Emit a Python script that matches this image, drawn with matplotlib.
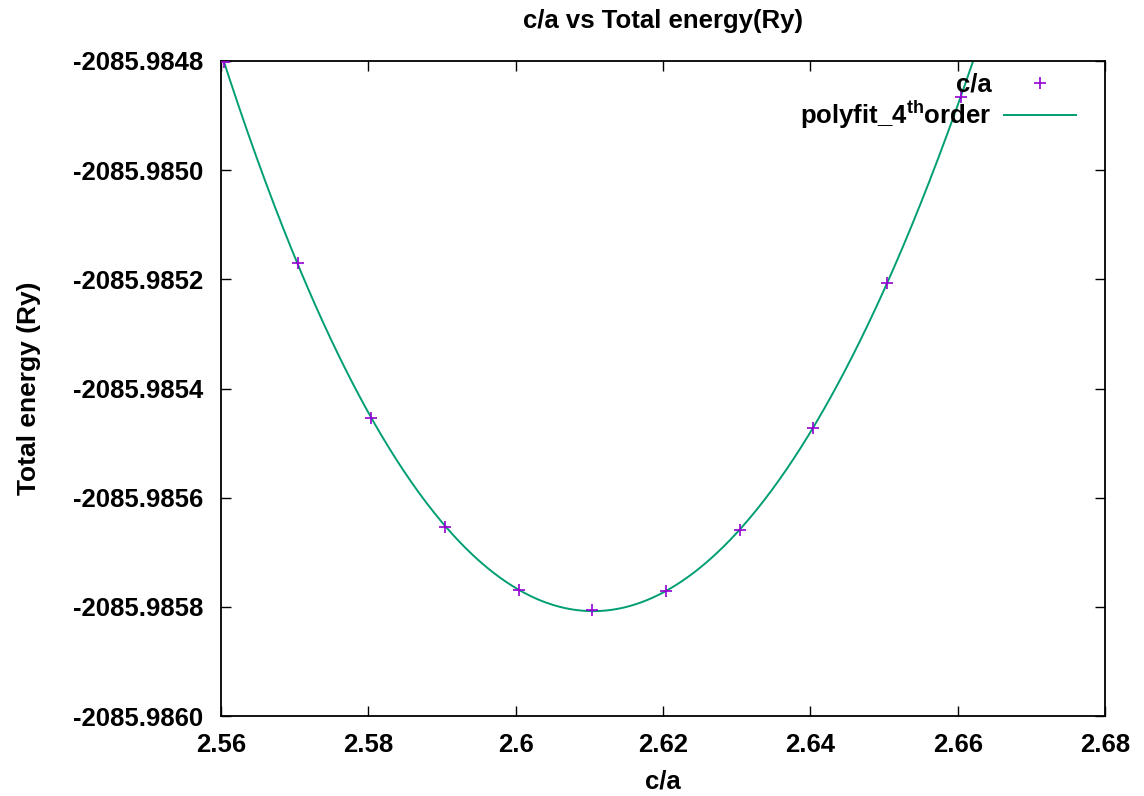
import numpy as np
import matplotlib
matplotlib.use('Agg')
import matplotlib.pyplot as plt
from matplotlib.ticker import FixedLocator

plt.rcParams['font.family'] = ['Liberation Sans', 'DejaVu Sans']
plt.rcParams['font.weight'] = 'bold'
plt.rcParams['mathtext.fontset'] = 'custom'
plt.rcParams['mathtext.bf'] = 'Liberation Sans:bold'
plt.rcParams['mathtext.rm'] = 'Liberation Sans:bold'

# data
ca = [2.5604, 2.5704, 2.5804, 2.5904, 2.6004, 2.6104,
      2.6204, 2.6304, 2.6404, 2.6504, 2.6604]
energy = [-2085.984802, -2085.985170, -2085.985454, -2085.985653,
          -2085.985769, -2085.985806, -2085.985771, -2085.985659,
          -2085.985472, -2085.985207, -2085.984866]

x_ticks = [2.56, 2.58, 2.60, 2.62, 2.64, 2.66, 2.68]
x_labels = ['2.56', '2.58', '2.6', '2.62', '2.64', '2.66', '2.68']
y_ticks = [-2085.9860, -2085.9858, -2085.9856, -2085.9854,
           -2085.9852, -2085.9850, -2085.9848]
y_labels = ['%.4f' % v for v in y_ticks]

PURPLE = '#9400d3'
GREEN = '#009e73'

# 4th-order polynomial fit (centred for stability)
x0, e0 = 2.61, -2085.985
xa = np.array(ca) - x0
ea = np.array(energy) - e0
coef = np.polyfit(xa, ea, 4)
xs = np.linspace(2.56, 2.68, 600)
fit = np.polyval(coef, xs - x0) + e0

fig = plt.figure(figsize=(11.44, 7.96), dpi=100)
ax = fig.add_axes([221 / 1144, 1 - 716 / 796, (1105 - 221) / 1144,
                   (716 - 61) / 796])

ax.plot(ca, energy, ls='none', marker='+', ms=9, mew=1.2,
        color=PURPLE, label='c/a', zorder=3)
ax.plot(xs, fit, color=GREEN, lw=1.4,
        label=r'polyfit_4$^{\mathbf{th}}$order', zorder=2)

ax.set_xlim(2.56, 2.68)
ax.set_ylim(-2085.9860, -2085.9848)
ax.xaxis.set_major_locator(FixedLocator(x_ticks))
ax.set_xticklabels(x_labels)
ax.yaxis.set_major_locator(FixedLocator(y_ticks))
ax.set_yticklabels(y_labels)
ax.tick_params(direction='in', length=7, width=1.0, top=True, right=True,
               labelsize=18.5)
ax.tick_params(axis='y', pad=13)
ax.tick_params(axis='x', pad=12)
for lab in ax.get_xticklabels() + ax.get_yticklabels():
    lab.set_fontweight('bold')
for sp in ax.spines.values():
    sp.set_linewidth(1.3)

ax.set_xlabel('c/a', fontsize=18.5, fontweight='bold', labelpad=9)
ax.set_ylabel('Total energy (Ry)', fontsize=19, fontweight='bold',
              labelpad=23)
ax.set_title('c/a vs Total energy(Ry)', fontsize=18.5, fontweight='bold',
             pad=24)

leg = ax.legend(loc='upper right', frameon=False, markerfirst=False,
                fontsize=18.5, handlelength=2.8, handletextpad=0.5,
                labelspacing=0.05, borderaxespad=0.0,
                bbox_to_anchor=(0.979, 0.998))
for col in leg._legend_handle_box.get_children():
    col.align = 'right'

fig.savefig('out.png', dpi=100, facecolor='white')
